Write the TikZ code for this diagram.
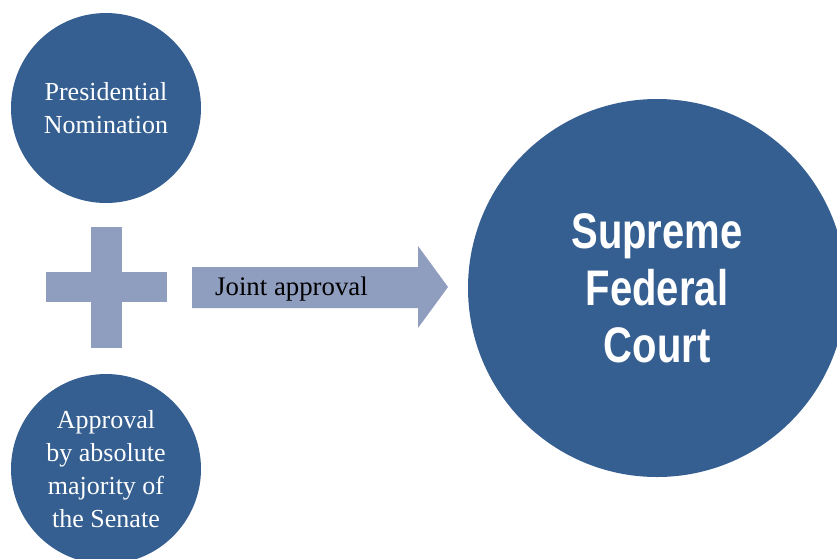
\documentclass[tikz,border=0pt]{standalone}
\usepackage{fontspec}
\setmainfont{Liberation Serif}
\newfontfamily\condsans[FakeStretch=0.8]{Liberation Sans}
\definecolor{darkblue}{HTML}{365F91}
\definecolor{lightblue}{HTML}{8F9DBF}
\begin{document}
\begin{tikzpicture}[x=1pt,y=-1pt,
  bigdisc/.style={circle,fill=darkblue,inner sep=0pt,text=white,align=center},
  smalltext/.style={font=\fontsize{26}{33}\selectfont},
  labeltext/.style={font=\fontsize{26.8}{33}\selectfont},
  bigtext/.style={font=\fontsize{50}{57}\selectfont\condsans\bfseries},
  shapefill/.style={fill=lightblue}]
\useasboundingbox (0,0) rectangle (837,558);
\begin{scope}
\clip (0,0) rectangle (837,558);
\node[bigdisc,smalltext,minimum size=190pt] (pres) at (106,108) {Presidential\\Nomination};
\node[bigdisc,smalltext,minimum size=190pt] (senate) at (106,469) {Approval\\by absolute\\majority of\\the Senate};
\node[bigdisc,bigtext,minimum size=378pt] (court) at (657,288) {Supreme\\Federal\\Court};
\end{scope}
% plus sign
\fill[shapefill] (91,227) rectangle (122,348);
\fill[shapefill] (46,272) rectangle (167,302);
% arrow
\fill[shapefill] (192,267) -- (418,267) -- (418,246) -- (448,287) -- (418,328) -- (418,308) -- (192,308) -- cycle;
\node[labeltext,anchor=base west,inner sep=0pt] (joint) at (215,295) {Joint approval};
\end{tikzpicture}
\end{document}
